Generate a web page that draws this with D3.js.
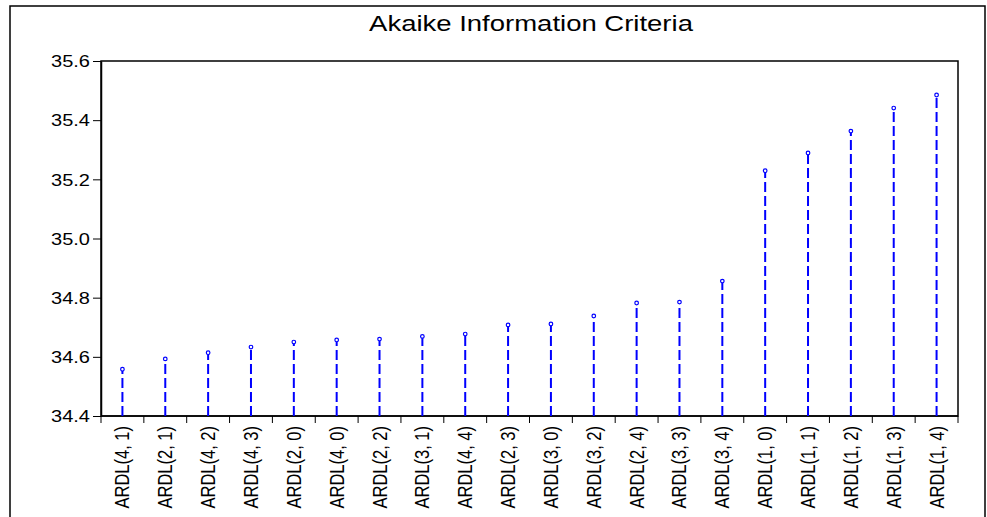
<!DOCTYPE html>
<html><head><meta charset="utf-8">
<script src="https://cdn.jsdelivr.net/npm/d3@7"></script>
<style>body{margin:0;background:#fff}svg text{font-family:"Liberation Sans",Arial,sans-serif}</style>
</head><body><div id="chart"></div>
<script>
var labels = ["ARDL(4, 1)","ARDL(2, 1)","ARDL(4, 2)","ARDL(4, 3)","ARDL(2, 0)","ARDL(4, 0)","ARDL(2, 2)","ARDL(3, 1)","ARDL(4, 4)","ARDL(2, 3)","ARDL(3, 0)","ARDL(3, 2)","ARDL(2, 4)","ARDL(3, 3)","ARDL(3, 4)","ARDL(1, 0)","ARDL(1, 1)","ARDL(1, 2)","ARDL(1, 3)","ARDL(1, 4)"];
var aic = [34.558,34.593,34.614,34.633,34.650,34.657,34.660,34.669,34.677,34.708,34.711,34.738,34.782,34.785,34.856,35.229,35.289,35.363,35.441,35.485];
var yTicks = [34.4,34.6,34.8,35.0,35.2,35.4,35.6];

var W = 987, H = 517;
var margin = {top: 61, right: 29, bottom: 101, left: 101};
var width = W - margin.left - margin.right,
    height = H - margin.top - margin.bottom;
var stretch = 1.25; // text in the picture is widened horizontally

var svg = d3.select("#chart").append("svg")
    .attr("width", W).attr("height", H);

// outer frame
svg.append("path")
    .attr("d", "M10,517V6H985V517")
    .attr("fill", "none").attr("stroke", "#000").attr("stroke-width", 1.5);

svg.append("text")
    .attr("transform", "translate(531,31) scale(" + stretch + ",1)")
    .attr("text-anchor", "middle")
    .style("font-size", "22px")
    .text("Akaike Information Criteria");

var g = svg.append("g").attr("transform", "translate(" + margin.left + "," + margin.top + ")");

var x = d3.scaleBand().domain(labels).range([0, width]);
var y = d3.scaleLinear().domain([34.4, 35.6]).range([height, 0]);

// plot box
g.append("rect").attr("width", width).attr("height", height)
    .attr("fill", "none").attr("stroke", "#000").attr("stroke-width", 1.5);

// y axis
var yAxis = g.append("g")
    .call(d3.axisLeft(y).tickValues(yTicks).tickFormat(d3.format(".1f")).tickSize(8).tickSizeOuter(0));
yAxis.select(".domain").attr("stroke-width", 1.5);
yAxis.selectAll(".tick text").remove();
yAxis.selectAll(".tick").append("text")
    .attr("transform", "translate(-11,0) scale(" + stretch + ",1)")
    .attr("text-anchor", "end").attr("dy", "0.36em")
    .attr("fill", "#000")
    .style("font-size", "16px")
    .text(function(d) { return d3.format(".1f")(d); });

// x axis: ticks at category boundaries
var xa = g.append("g").attr("transform", "translate(0," + height + ")");
xa.append("line").attr("x1", 0).attr("x2", width).attr("stroke", "#000").attr("stroke-width", 1.5);
xa.selectAll(".tk").data(d3.range(labels.length + 1)).enter().append("line")
    .attr("x1", function(i) { return i * x.step(); })
    .attr("x2", function(i) { return i * x.step(); })
    .attr("y1", 0).attr("y2", 7).attr("stroke", "#000");
xa.selectAll(".lb").data(labels).enter().append("text")
    .attr("transform", function(d) { return "translate(" + (x(d) + x.bandwidth() / 2 + 7) + ",10) scale(" + stretch + ",1) rotate(-90)"; })
    .attr("text-anchor", "end")
    .style("font-size", "16.5px")
    .text(function(d) { return d; });

// stems
g.selectAll(".stem").data(aic).enter().append("line")
    .attr("x1", function(d, i) { return x(labels[i]) + x.bandwidth() / 2; })
    .attr("x2", function(d, i) { return x(labels[i]) + x.bandwidth() / 2; })
    .attr("y1", height).attr("y2", function(d) { return y(d); })
    .attr("stroke", "#0000ff").attr("stroke-width", 2)
    .attr("stroke-dasharray", "10,4");

g.selectAll(".pt").data(aic).enter().append("circle")
    .attr("cx", function(d, i) { return x(labels[i]) + x.bandwidth() / 2; })
    .attr("cy", function(d) { return y(d); })
    .attr("r", 1.8)
    .attr("fill", "#fff").attr("stroke", "#0000ff").attr("stroke-width", 1.2);
</script></body></html>
